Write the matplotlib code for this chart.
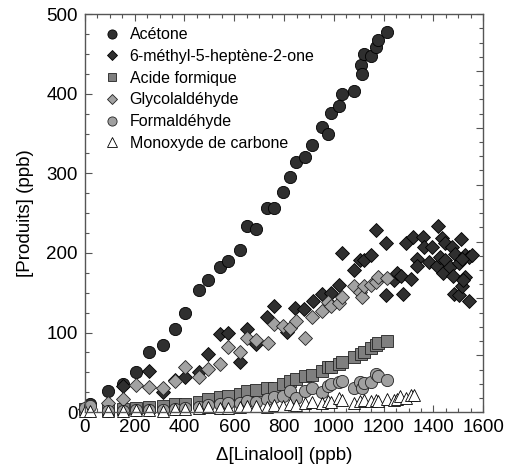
import matplotlib.pyplot as plt
from matplotlib.ticker import MultipleLocator

# ---------------------------------------------------------------
# Data (ppb)
# ---------------------------------------------------------------

acetone_x = [0, 20, 94, 154, 205, 258, 312, 364, 402, 458, 495, 542, 576,
             625, 653, 687, 730, 759, 797, 823, 846, 884, 913, 951, 977,
             987, 1022, 1031, 1080, 1107, 1114, 1121, 1148, 1168, 1178, 1212]
acetone_y = [4, 10, 27, 36, 51, 75, 85, 105, 125, 153, 166, 182, 190,
             204, 234, 230, 256, 257, 277, 295, 314, 321, 336, 358, 349,
             376, 385, 400, 404, 436, 425, 450, 447, 459, 467, 478]

mho_x = [0, 154, 258, 312, 364, 402, 458, 495, 542, 576, 625, 653, 687,
         730, 759, 813, 844, 881, 915, 951, 987, 1022, 1031, 1080, 1105,
         1121, 1148, 1168, 1210, 1209, 1240, 1253, 1269, 1276, 1290, 1310,
         1319, 1335, 1335, 1357, 1360, 1384, 1393, 1418, 1416, 1426, 1435,
         1439, 1446, 1448, 1466, 1475, 1478, 1484, 1488, 1501, 1510, 1501,
         1514, 1527, 1520, 1541, 1527, 1541, 1554, 1514]
mho_y = [4, 33, 52, 25, 41, 44, 50, 73, 98, 99, 63, 105, 86,
         120, 133, 101, 131, 130, 140, 149, 150, 160, 200, 178, 191,
         191, 197, 229, 212, 147, 166, 175, 171, 148, 212, 167,
         220, 193, 184, 220, 207, 189, 207, 234, 184, 195, 219,
         175, 212, 191, 182, 208, 171, 148, 199, 147, 217, 188,
         158, 170, 166, 140, 197, 195, 198, 192]

formic_x = [0, 94, 154, 205, 258, 312, 364, 402, 458, 495, 542, 576, 625,
            653, 687, 730, 759, 797, 823, 846, 884, 913, 951, 977, 987,
            1022, 1031, 1080, 1108, 1121, 1148, 1168, 1178, 1212]
formic_y = [4, 3, 4, 5, 6, 8, 10, 10, 13, 16, 19, 20, 23,
            26, 28, 30, 31, 36, 39, 42, 45, 47, 52, 57, 57,
            61, 63, 69, 73, 75, 80, 84, 87, 90]

glyco_x = [94, 154, 205, 258, 312, 364, 402, 458, 495, 542, 576, 625, 653,
           687, 737, 759, 797, 823, 846, 884, 913, 951, 977, 987, 1022,
           1031, 1080, 1105, 1114, 1121, 1148, 1168, 1178, 1212]
glyco_y = [11, 16, 34, 32, 30, 39, 57, 44, 54, 60, 82, 75, 93,
           91, 87, 111, 108, 106, 115, 93, 120, 127, 138, 133, 137,
           145, 158, 151, 145, 158, 160, 163, 170, 168]

formal_x = [0, 20, 94, 154, 205, 258, 312, 364, 402, 458, 495, 542, 576,
            625, 653, 687, 730, 759, 797, 823, 846, 884, 913, 951, 977,
            987, 1022, 1031, 1080, 1105, 1114, 1121, 1148, 1168, 1178, 1212]
formal_y = [5, 8, 2, 2, 3, 3, 3, 4, 5, 7, 9, 10, 11,
            12, 14, 13, 16, 19, 20, 26, 18, 27, 31, 25, 33,
            36, 38, 39, 31, 38, 31, 37, 38, 48, 45, 41]

co_x = [0, 20, 94, 154, 205, 258, 312, 364, 402, 458, 495, 542, 576,
        625, 653, 687, 730, 759, 797, 823, 846, 884, 913, 951, 977,
        987, 1022, 1031, 1080, 1105, 1121, 1148, 1168, 1178, 1212, 1240,
        1253, 1266, 1290, 1310, 1320]
co_y = [2, 1, 2, 1, 3, 3, 2, 4, 4, 5, 6, 5, 5,
        7, 8, 8, 7, 9, 8, 10, 9, 11, 13, 12, 14,
        13, 18, 15, 12, 14, 15, 14, 15, 14, 16, 15,
        17, 20, 18, 22, 21]

# ---------------------------------------------------------------
# Figure
# ---------------------------------------------------------------

plt.rcParams['font.family'] = ['Liberation Sans', 'DejaVu Sans']

fig = plt.figure(figsize=(5.05, 4.7), dpi=100)
ax = fig.add_axes([0.168, 0.123, 0.789, 0.847])

common = dict(linestyle='none', mew=0.6, clip_on=False)

ax.plot(acetone_x, acetone_y, 'o', ms=8.8, mfc='#2f2f2f', mec='black',
        label='Acétone', **common)
ax.plot(mho_x, mho_y, 'D', ms=6.8, mfc='#2f2f2f', mec='black',
        label='6-méthyl-5-heptène-2-one', **common)
ax.plot(formic_x, formic_y, 's', ms=8.0, mfc='#7f7f7f', mec='#222222',
        label='Acide formique', **common)
ax.plot(glyco_x, glyco_y, 'D', ms=6.8, mfc='#a2a2a2', mec='#222222',
        label='Glycolaldéhyde', **common)
ax.plot(formal_x, formal_y, 'o', ms=8.8, mfc='#a0a0a0', mec='#222222',
        label='Formaldéhyde', **common)
ax.plot(co_x, co_y, '^', ms=9.2, mfc='white', mec='black',
        label='Monoxyde de carbone', **common)

ax.set_xlim(0, 1600)
ax.set_ylim(0, 500)
ax.xaxis.set_major_locator(MultipleLocator(200))
ax.xaxis.set_minor_locator(MultipleLocator(50))
ax.yaxis.set_major_locator(MultipleLocator(100))
ax.yaxis.set_minor_locator(MultipleLocator(25))

ax.tick_params(which='both', direction='in', top=True, right=False,
               color='#555555', labelsize=13.5, pad=5)
ax.tick_params(which='major', length=5, width=0.8)
ax.tick_params(which='minor', length=3, width=0.8)

for s in ax.spines.values():
    s.set_color('#555555')
    s.set_linewidth(1.0)

# right-hand axis only carries ticks (7 intervals, no labels)
ax2 = ax.twinx()
ax2.set_ylim(0, 7)
ax2.yaxis.set_major_locator(MultipleLocator(1))
ax2.yaxis.set_minor_locator(MultipleLocator(0.25))
ax2.tick_params(which='both', direction='in', labelright=False,
                color='#555555')
ax2.tick_params(which='major', length=5, width=0.8)
ax2.tick_params(which='minor', length=3, width=0.8)
for s in ax2.spines.values():
    s.set_visible(False)

ax.set_xlabel('Δ[Linalool] (ppb)', fontsize=13.5, labelpad=8)
ax.set_ylabel('[Produits] (ppb)', fontsize=13.5, labelpad=9)

ax.legend(loc='upper left', frameon=False, fontsize=11.5,
          handlelength=1.0, handletextpad=0.6, labelspacing=0.42,
          markerscale=0.75, borderaxespad=0.3, bbox_to_anchor=(0.02, 0.995))

fig.savefig('out.png', dpi=100)
